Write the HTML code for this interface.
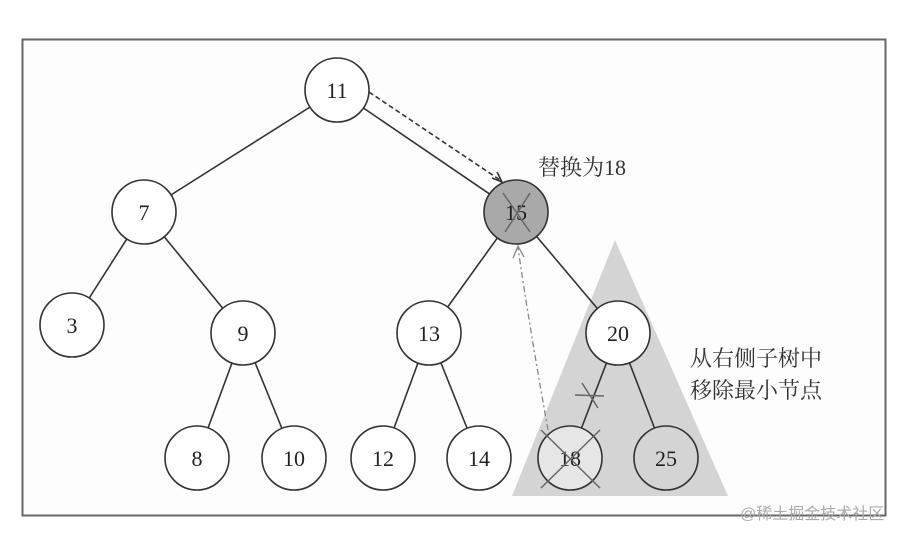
<!DOCTYPE html>
<html><head><meta charset="utf-8"><style>body{margin:0;background:#fff}svg{display:block}</style></head><body>
<svg width="916" height="538" viewBox="0 0 916 538" xmlns="http://www.w3.org/2000/svg" font-family="Liberation Serif, Noto Serif CJK SC, serif">
<rect width="916" height="538" fill="#fff"/>
<rect x="22.5" y="39.5" width="863" height="476" fill="#fdfdfd" stroke="#666" stroke-width="2"/>
<polygon points="615,240 512,496 728,496" fill="#d4d4d4"/>
<g stroke="#333" stroke-width="1.6" fill="none">
<line x1="337" y1="90" x2="144" y2="212"/>
<line x1="337" y1="90" x2="516" y2="212"/>
<line x1="144" y1="212" x2="72" y2="325"/>
<line x1="144" y1="212" x2="243" y2="333"/>
<line x1="243" y1="333" x2="197" y2="458"/>
<line x1="243" y1="333" x2="294" y2="458"/>
<line x1="516" y1="212" x2="429" y2="333"/>
<line x1="516" y1="212" x2="618" y2="333"/>
<line x1="429" y1="333" x2="383" y2="458"/>
<line x1="429" y1="333" x2="479" y2="458"/>
<line x1="618" y1="333" x2="570" y2="458"/>
<line x1="618" y1="333" x2="666" y2="458"/>
<path d="M369,92 L500,180" stroke-dasharray="5,3"/>
<path d="M492,178 L502,182 L497,172"/>
</g>
<path d="M548,430 Q530,330 518,248" stroke="#888" stroke-width="1.3" fill="none" stroke-dasharray="6,3,2,3"/>
<path d="M513,258 L518,246 L524,257" stroke="#888" stroke-width="1.3" fill="none"/>
<g stroke="#333" stroke-width="1.6">
<circle cx="337" cy="90" r="32" fill="#fff"/>
<circle cx="144" cy="212" r="32" fill="#fff"/>
<circle cx="516" cy="212" r="32" fill="#a9a9a9"/>
<circle cx="72" cy="325" r="32" fill="#fff"/>
<circle cx="243" cy="333" r="32" fill="#fff"/>
<circle cx="429" cy="333" r="32" fill="#fff"/>
<circle cx="618" cy="333" r="32" fill="#fff"/>
<circle cx="197" cy="458" r="32" fill="#fff"/>
<circle cx="294" cy="458" r="32" fill="#fff"/>
<circle cx="383" cy="458" r="32" fill="#fff"/>
<circle cx="479" cy="458" r="32" fill="#fff"/>
<circle cx="570" cy="458" r="32" fill="#e6e6e6"/>
<circle cx="666" cy="458" r="32" fill="#d4d4d4"/>
</g>
<g font-size="22" text-anchor="middle" fill="#222">
<text x="337" y="98">11</text><text x="144" y="220">7</text><text x="516" y="220">15</text>
<text x="72" y="333">3</text><text x="243" y="341">9</text><text x="429" y="341">13</text><text x="618" y="341">20</text>
<text x="197" y="466">8</text><text x="294" y="466">10</text><text x="383" y="466">12</text><text x="479" y="466">14</text><text x="570" y="466">18</text><text x="666" y="466">25</text>
</g>
<g stroke="#666" stroke-width="1.5">
<line x1="503" y1="193" x2="530" y2="232"/><line x1="530" y1="193" x2="505" y2="232"/>
<line x1="541" y1="430" x2="600" y2="488"/><line x1="600" y1="430" x2="541" y2="488"/>
<line x1="575" y1="395" x2="604" y2="396"/><line x1="582" y1="383" x2="598" y2="408"/>
</g>
<text x="538" y="175" font-size="22" fill="#333">替换为18</text>
<text x="690" y="366" font-size="22" fill="#333">从右侧子树中</text>
<text x="690" y="398" font-size="22" fill="#333">移除最小节点</text>
<text x="740" y="519" font-size="16" fill="#aaa" font-family="Liberation Sans, Noto Sans CJK SC, sans-serif">@稀土掘金技术社区</text>
</svg>
</body></html>
